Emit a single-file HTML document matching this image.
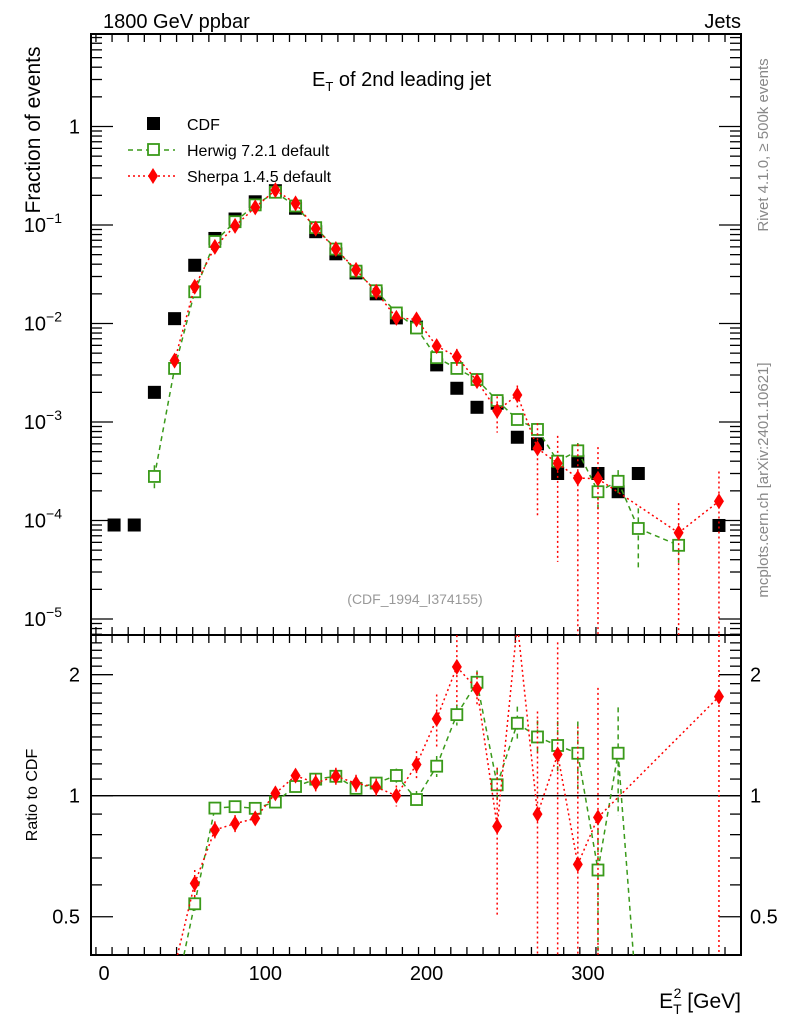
<!DOCTYPE html>
<html><head><meta charset="utf-8"><style>
html,body{margin:0;padding:0;background:#fff;width:786px;height:1024px;overflow:hidden;}
svg{display:block;font-family:"Liberation Sans",sans-serif;}
</style></head><body>
<svg id="chart" width="786" height="1024" viewBox="0 0 786 1024">
<rect x="0" y="0" width="786" height="1024" fill="#fff"/>
<g id="main"></g>
</svg>
<script>
const centers=[6.25,18.75,31.25,43.75,56.25,68.75,81.25,93.75,106.25,118.75,131.25,143.75,156.25,168.75,181.25,193.75,206.25,218.75,231.25,243.75,256.25,268.75,281.25,293.75,306.25,318.75,331.25,343.75,356.25,368.75,381.25];
const cdfVals=[9e-5,9e-5,2.0e-3,0.0112,0.039,0.073,0.115,0.172,0.223,0.148,0.0855,0.051,0.0326,0.020,0.0114,0.0092,0.0038,0.0022,0.00141,0.00155,7.0e-4,6.0e-4,3.0e-4,4.0e-4,3.0e-4,1.96e-4,3.0e-4,null,null,null,8.9e-5];
const herwigVals=[null,null,2.8e-4,3.5e-3,0.021,0.068,0.108,0.160,0.215,0.156,0.094,0.057,0.034,0.0215,0.0128,0.009,0.0045,0.0035,0.0027,0.00165,0.00106,8.4e-4,4.0e-4,5.1e-4,1.96e-4,2.5e-4,8.3e-5,null,5.6e-5,null,null];
const herwigRelErr=[0,0,0.3,0.08,0.04,0.03,0.03,0.03,0.03,0.03,0.03,0.03,0.03,0.03,0.04,0.05,0.06,0.06,0.07,0.1,0.1,0.1,0.15,0.2,0.4,0.3,0.6,0,0.4,0,0];
const sherpaVals=[null,null,null,4.2e-3,0.0236,0.060,0.098,0.151,0.226,0.166,0.092,0.057,0.035,0.021,0.0114,0.011,0.0059,0.0046,0.0026,0.0013,0.00188,5.4e-4,3.8e-4,2.7e-4,2.65e-4,null,null,null,7.5e-5,null,1.57e-4];
const sherpaRelErr=[0,0,0,0.15,0.08,0.05,0.05,0.04,0.04,0.04,0.05,0.05,0.05,0.05,0.06,0.08,0.15,0.2,0.1,0.4,0.25,0.8,0.9,1.2,1.1,0,0,0,1.0,0,1.0];
const xTicks=[0,100,200,300];
const yTicksMain=[1,0.1,0.01,0.001,0.0001,0.00001];
const yTickLabels=["1","10","10","10","10","10"];
const yTickExps=["","\u22121","\u22122","\u22123","\u22124","\u22125"];
const ratioTicks=[0.5,1,2];

const NS="http://www.w3.org/2000/svg";
const svg=document.getElementById('main');
const L=91,R=741,T=34,MB=635,RB=955;
const xs=v=>104+1.613*v;
const ym=v=>126.5-98.5*Math.log10(v);
const yr=v=>795.7-402*Math.log10(v);
function el(tag,attrs,parent){const e=document.createElementNS(NS,tag);for(const k in attrs)e.setAttribute(k,attrs[k]);(parent||svg).appendChild(e);return e;}
function txt(s,attrs,parent){const e=el('text',attrs,parent);e.textContent=s;return e;}

function xTicksDraw(y0,dir){
  for(let v=-5;v<=395;v+=10){const x=xs(v);if(x<L||x>R)continue;const major=v%100===0;const len=major?16:8;
    const t=el('line',{x1:x,y1:y0,x2:x,y2:y0+dir*len,stroke:'#000','stroke-width':1.3});
    }
}
xTicksDraw(T,1);xTicksDraw(MB,-1);xTicksDraw(MB,1);xTicksDraw(RB,-1);
for(let d=-6;d<=0;d++){for(let m=1;m<10;m++){const v=m*Math.pow(10,d);const y=ym(v);if(y<T||y>MB)continue;const len=m===1?22:11;
  [[L,1],[R,-1]].forEach(([x0,dir])=>{const t=el('line',{x1:x0,y1:y,x2:x0+dir*len,y2:y,stroke:'#000','stroke-width':1.3});});}}
[0.4,0.5,0.6,0.7,0.8,0.9,1,1.1,1.2,1.3,1.4,1.5,1.6,1.7,1.8,1.9,2,2.1,2.2,2.3,2.4].forEach(v=>{const y=yr(v);if(y<MB||y>RB)return;const major=ratioTicks.includes(v);const len=major?22:11;
  [[L,1],[R,-1]].forEach(([x0,dir])=>{const t=el('line',{x1:x0,y1:y,x2:x0+dir*len,y2:y,stroke:'#000','stroke-width':1.3});});});

const f1=el('rect',{x:L,y:T,width:R-L,height:MB-T,fill:'none',stroke:'#000','stroke-width':2});

const f2=el('rect',{x:L,y:MB,width:R-L,height:RB-MB,fill:'none',stroke:'#000','stroke-width':2});

const one=el('line',{x1:L,y1:yr(1),x2:R,y2:yr(1),stroke:'#000','stroke-width':1.3});


xTicks.forEach(v=>{const t=txt(String(v),{x:xs(v),y:980,'font-size':20,'text-anchor':'middle'});});
yTicksMain.forEach((v,i)=>{const y=ym(v);const t=txt('',{x:80,y:y+7,'font-size':20,'text-anchor':'end'});
  if(yTickExps[i]){t.setAttribute('x',62);t.textContent=yTickLabels[i];const s=el('tspan',{dy:-9,'font-size':14},t);s.textContent=yTickExps[i];}else{t.setAttribute('x',80);t.textContent=yTickLabels[i];}
  });
ratioTicks.forEach(v=>{const y=yr(v);
  const a=txt(String(v),{x:80,y:y+7,'font-size':20,'text-anchor':'end'});
  const b=txt(String(v),{x:750,y:y+7,'font-size':20});});

function clipSeg(x1,y1,x2,y2,top,bot){
  // clip segment to y range [top,bot]
  let t0=0,t1=1;const dy=y2-y1;
  if(dy===0){if(y1<top||y1>bot)return null;return [x1,y1,x2,y2];}
  const ta=(top-y1)/dy,tb=(bot-y1)/dy;
  t0=Math.max(t0,Math.min(ta,tb));t1=Math.min(t1,Math.max(ta,tb));
  if(t0>t1)return null;
  return [x1+(x2-x1)*t0,y1+dy*t0,x1+(x2-x1)*t1,y1+dy*t1];
}

function drawSeries(vals,rel,color,dash,marker,name,ratio){
  const g=el('g',{});
  
  const bottom=ratio?RB:MB, top=ratio?MB:T;
  const f=ratio?yr:ym;
  const pts=[];
  vals.forEach((v,i)=>{if(v==null)return;let val=v;
    if(ratio){if(cdfVals[i]==null)return;val=v/cdfVals[i];}
    pts.push([xs(centers[i]),f(val),val,rel?rel[i]:0]);});
  if(dash){
    let d='';
    for(let k=0;k+1<pts.length;k++){const s=clipSeg(pts[k][0],pts[k][1],pts[k+1][0],pts[k+1][1],top,bottom);
      if(s)d+=`M${s[0].toFixed(1)},${s[1].toFixed(1)}L${s[2].toFixed(1)},${s[3].toFixed(1)}`;}
    if(d){const p=el('path',{d:d,fill:'none',stroke:color,'stroke-width':1.5,'stroke-dasharray':dash},g);
      }
  }
  pts.forEach(([x,y,val,r])=>{
    if(y<top||y>bottom)return;
    if(r>0){let lo=val*(1-r)>0?f(val*(1-r)):bottom;lo=Math.min(lo,bottom);let hi=Math.max(f(val*(1+r)),top);
      const e=el('line',{x1:x,y1:hi,x2:x,y2:lo,stroke:color,'stroke-width':1.5,'stroke-dasharray':dash||'none'},g);
      }
    let m;
    if(marker==='sq')m=el('rect',{x:x-6.5,y:y-6.5,width:13,height:13,fill:'#000'},g);
    else if(marker==='osq')m=el('rect',{x:x-5.5,y:y-5.5,width:11,height:11,fill:'#fff',stroke:color,'stroke-width':1.8},g);
    else m=el('polygon',{points:`${x},${y-8} ${x+5},${y} ${x},${y+8} ${x-5},${y}`,fill:color},g);
    
  });
}
drawSeries(cdfVals,null,'#000',null,'sq','cdf',false);
drawSeries(herwigVals,herwigRelErr,'#3a9a1a','5,4','osq','herwig',false);
drawSeries(sherpaVals,sherpaRelErr,'#f00','2,3','dia','sherpa',false);
drawSeries(herwigVals,herwigRelErr,'#3a9a1a','5,4','osq','herwig',true);
drawSeries(sherpaVals,sherpaRelErr,'#f00','2,3','dia','sherpa',true);

const lg=el('g',{});
const l1=el('rect',{x:147,y:117,width:13,height:13,fill:'#000'},lg);
const lt1=txt('CDF',{x:187,y:130,'font-size':16},lg);
const l2=el('line',{x1:128,y1:150,x2:175,y2:150,stroke:'#3a9a1a','stroke-width':1.5,'stroke-dasharray':'5,4'},lg);
const l2b=el('rect',{x:148,y:144,width:11,height:11,fill:'#fff',stroke:'#3a9a1a','stroke-width':1.8},lg);
const lt2=txt('Herwig 7.2.1 default',{x:187,y:156,'font-size':16},lg);
const l3=el('line',{x1:128,y1:176,x2:175,y2:176,stroke:'#f00','stroke-width':1.5,'stroke-dasharray':'2,3'},lg);
const l3b=el('polygon',{points:'153,168 158,176 153,184 148,176',fill:'#f00'},lg);
const lt3=txt('Sherpa 1.4.5 default',{x:187,y:182,'font-size':16},lg);

(function(){
const root=document.getElementById('chart');
function t(s,a,name){const e=document.createElementNS(NS,'text');for(const k in a)e.setAttribute(k,a[k]);e.innerHTML=s;root.appendChild(e);

return e;}
t('1800 GeV ppbar',{x:103,y:28,'font-size':20},'energy-label');
t('Jets',{x:741,y:28,'font-size':20,'text-anchor':'end'},'process-label');
t('E<tspan dy="5" font-size="13">T</tspan><tspan dy="-5"> of 2nd leading jet</tspan>',{x:312,y:86,'font-size':20},'plot-title');
t('Fraction of events',{x:0,y:0,'font-size':21,'text-anchor':'middle',transform:'translate(40,130) rotate(-90)'},'y-axis-title');
t('Ratio to CDF',{x:0,y:0,'font-size':16,'text-anchor':'middle',transform:'translate(37,795) rotate(-90)'},'ratio-axis-title');
t('Rivet 4.1.0, \u2265 500k events',{x:0,y:0,'font-size':15,fill:'#888','text-anchor':'middle',transform:'translate(768,145) rotate(-90)'},'rivet-version-label');
t('mcplots.cern.ch [arXiv:2401.10621]',{x:0,y:0,'font-size':15,fill:'#888','text-anchor':'middle',transform:'translate(768,480) rotate(-90)'},'mcplots-label');
t('(CDF_1994_I374155)',{x:415,y:604,'font-size':14,fill:'#999','text-anchor':'middle'},'analysis-id-label');
t('E<tspan dy="6" font-size="14">T</tspan><tspan dx="-8" dy="-16" font-size="14">2</tspan><tspan dy="10"> [GeV]</tspan>',{x:741,y:1008,'font-size':21,'text-anchor':'end'},'x-axis-title');
})();
</script>
</body></html>
